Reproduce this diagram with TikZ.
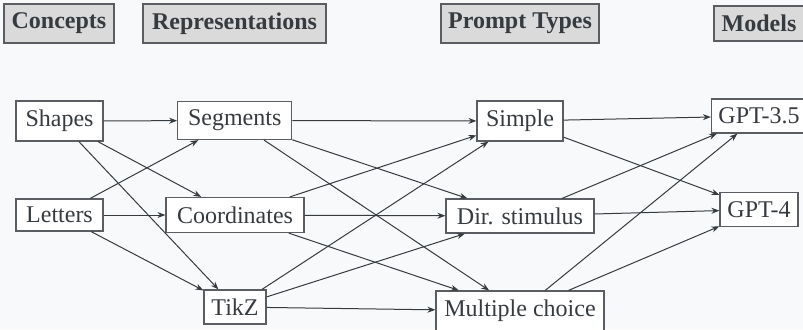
\documentclass[tikz,border=0pt]{standalone}
\usepackage{fontspec}
\setmainfont{Liberation Serif}
\usetikzlibrary{arrows.meta}
\definecolor{bgc}{HTML}{F8F9FA}
\definecolor{ink}{HTML}{363B40}
\definecolor{boxline}{HTML}{5A5E62}
\definecolor{headfill}{HTML}{DADADA}
\tikzset{
  item/.style={draw=boxline, line width=0.6pt, fill=white, text=ink, inner sep=0pt,
    font=\fontsize{12}{14}\selectfont, anchor=center},
  head/.style={draw=boxline, line width=0.6pt, fill=headfill, text=ink, inner sep=0pt,
    font=\fontsize{12}{14}\selectfont\bfseries, anchor=center},
  link/.style={draw=ink, line width=0.5pt, -{Stealth[length=4pt,width=3pt]}}
}
\begin{document}
\begin{tikzpicture}[x=0.5pt,y=-0.5pt]
\useasboundingbox (0,0) rectangle (803,329);
\fill[bgc] (0,0) rectangle (803,329);
\clip (0,0) rectangle (803,329);
% headers
\node[head, minimum width=55pt, minimum height=19.5pt] (hc) at (59,23.5) {Concepts};
\node[head, minimum width=91.5pt, minimum height=19.5pt] (hr) at (234.5,23.5) {Representations};
\node[head, minimum width=79pt, minimum height=19.5pt] (hp) at (520,23.5) {Prompt Types};
\node[head, minimum width=45pt, minimum height=17.5pt] (hm) at (759,23.5) {Models};
% nodes
\node[item, minimum width=43.5pt, minimum height=20pt] (shapes) at (59.5,121) {Shapes};
\node[item, minimum width=43.5pt, minimum height=16pt] (letters) at (59.5,215) {Letters};
\node[item, minimum width=57pt, minimum height=19pt] (seg) at (234.7,120.5) {Segments};
\node[item, minimum width=69pt, minimum height=17.5pt] (coord) at (235,215) {Coordinates};
\node[item, minimum width=31pt, minimum height=17pt] (tikz) at (235,307) {TikZ};
\node[item, minimum width=43pt, minimum height=20pt] (simple) at (520,121) {Simple};
\node[item, minimum width=74pt, minimum height=17pt] (dir) at (520,216) {Dir. stimulus};
\node[item, minimum width=84pt, minimum height=20pt] (mc) at (520,311) {Multiple choice};
\node[item, minimum width=47.5pt, minimum height=17pt] (g35) at (759,116) {GPT-3.5};
\node[item, minimum width=39pt, minimum height=17pt] (g4) at (759,209.5) {GPT-4};
% edges
\foreach \a in {shapes,letters}{
  \foreach \b in {seg,coord,tikz}{
    \draw[link] (\a) -- (\b);
  }
}
\foreach \a in {seg,coord,tikz}{
  \foreach \b in {simple,dir,mc}{
    \draw[link] (\a) -- (\b);
  }
}
\foreach \a in {simple,dir,mc}{
  \foreach \b in {g35,g4}{
    \draw[link] (\a) -- (\b);
  }
}
\end{tikzpicture}
\end{document}
